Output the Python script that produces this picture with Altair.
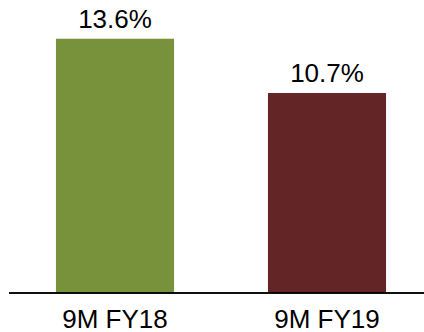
import altair as alt
import pandas as pd

categories = ["9M FY18", "9M FY19"]
values = [13.6, 10.7]
labels = ["13.6%", "10.7%"]
colors = ["#78923C", "#632525"]

df = pd.DataFrame({"cat": categories, "val": values, "label": labels, "color": colors})

FONT = "Liberation Sans"

x = alt.X(
    "cat:N",
    sort=categories,
    title=None,
    scale=alt.Scale(paddingInner=0.443, paddingOuter=0.179),
    axis=alt.Axis(
        domain=False,
        ticks=False,
        grid=False,
        labelAngle=0,
        labelFont=FONT,
        labelFontSize=26,
        labelColor="#000000",
        labelBaseline="alphabetic",
        labelPadding=34,
    ),
)
y = alt.Y("val:Q", scale=alt.Scale(domain=[0, 15.68], nice=False, zero=True), axis=None)

bars = alt.Chart(df).mark_bar().encode(
    x=x, y=y, color=alt.Color("color:N", scale=None)
)

text = alt.Chart(df).mark_text(
    baseline="alphabetic", dy=-11, font=FONT, fontSize=26, color="#000000"
).encode(x=alt.X("cat:N", sort=categories), y="val:Q", text="label:N")

rule = alt.Chart(df).mark_rule(color="#000000", strokeWidth=1.5).encode(
    x=alt.value(-9), x2=alt.value(406), y=alt.value(293)
)

chart = (
    alt.layer(bars, text, rule)
    .properties(
        width=406,
        height=293,
        padding={"left": 18, "top": 0, "right": 0, "bottom": 39},
        autosize=alt.AutoSizeParams(type="none"),
    )
    .configure_view(stroke=None)
)

chart.save("out.html", embed_options={"renderer": "svg", "actions": False})
